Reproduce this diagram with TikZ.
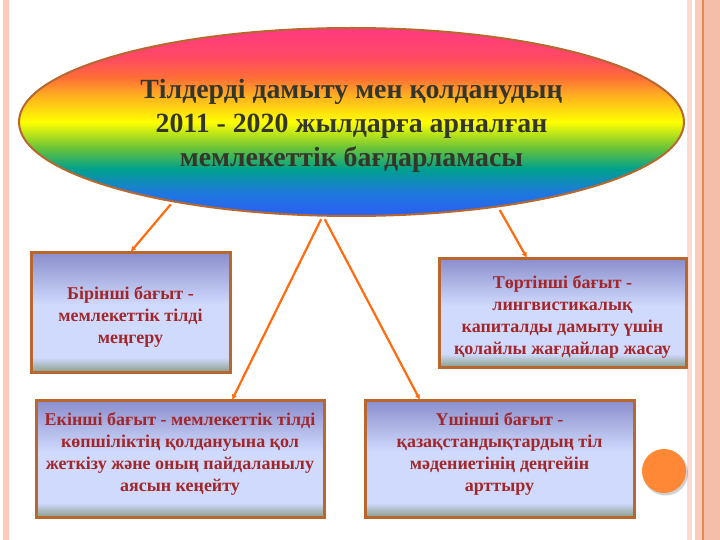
\documentclass[tikz,border=0pt]{standalone}
\usepackage{fontspec}
\setmainfont{Liberation Serif}
\usetikzlibrary{shapes.geometric,arrows.meta,calc}
\definecolor{rb1}{HTML}{2A5EF2}
\definecolor{rb2}{HTML}{1F78E0}
\definecolor{rb3}{HTML}{00A08E}
\definecolor{rb4}{HTML}{66C23A}
\definecolor{rb5}{HTML}{FFFF00}
\definecolor{rb6}{HTML}{FFB020}
\definecolor{rb7}{HTML}{FF6C38}
\definecolor{rb8}{HTML}{FF4A62}
\definecolor{rb9}{HTML}{FF3A82}
\definecolor{bxg}{HTML}{8C9E8A}
\definecolor{bxl}{HTML}{CFDAFD}
\definecolor{bxt}{HTML}{8A8DCB}
\definecolor{bord}{HTML}{B8682E}
\definecolor{arr}{HTML}{FF6B0F}
\definecolor{boxtxt}{HTML}{A3262A}
\definecolor{titletxt}{HTML}{35362A}
\definecolor{stripA}{HTML}{FDCBBB}
\definecolor{stripB}{HTML}{FCDCD0}
\definecolor{stripC}{HTML}{F9CCBB}
\definecolor{stripD}{HTML}{E8874F}
\definecolor{stripE}{HTML}{F5BEA8}
\definecolor{dot}{HTML}{FF8836}
\pgfdeclareverticalshading{rainbow}{100bp}{color(0bp)=(rb1); color(25bp)=(rb1); color(31bp)=(rb2); color(37.5bp)=(rb3); color(43bp)=(rb4); color(50bp)=(rb5); color(57bp)=(rb6); color(62bp)=(rb7); color(67bp)=(rb8); color(75bp)=(rb9); color(100bp)=(rb9)}
\pgfdeclareverticalshading{boxshade}{100bp}{color(0bp)=(bxg); color(25bp)=(bxg); color(31bp)=(bxl); color(53bp)=(bxl); color(75bp)=(bxt); color(100bp)=(bxt)}
\newcommand\boxlift{\rule{0pt}{22pt}}
\newcommand\titlelift{\rule{0pt}{27pt}}
\tikzset{
  bigoval/.style={ellipse, draw=bord, line width=2pt, shading=rainbow, minimum width=665pt, minimum height=188pt, inner sep=0pt, outer sep=0pt, align=center, text=titletxt, font=\fontsize{27.8}{34}\selectfont\bfseries},
  dirbox/.style={rectangle, draw=bord, line width=3pt, shading=boxshade, inner sep=0pt, outer sep=0pt, align=center, text=boxtxt, font=\fontsize{18}{22}\selectfont\bfseries},
  link/.style={draw=arr, line width=2.2pt, -{Latex[length=5.5pt,width=5.5pt]}, shorten <=4pt},
}
\begin{document}
\begin{tikzpicture}[x=1pt,y=-1pt]
\useasboundingbox (0,0) rectangle (720,540);
\fill[white] (0,0) rectangle (720,540);
% page strips
\fill[stripA] (3,0) rectangle (9,540);
\fill[stripB] (687,0) rectangle (692,540);
\fill[stripC] (695,0) rectangle (702,540);
\fill[stripD] (702,0) rectangle (703.5,540);
\fill[stripE] (703.5,0) rectangle (720,540);

\node[bigoval] (e) at (351.5,122) {\titlelift Тілдерді дамыту мен қолданудың\\2011 - 2020 жылдарға арналған\\мемлекеттік бағдарламасы};

\node[dirbox, minimum width=199pt, minimum height=120pt] (b1) at (130.5,312) {\boxlift Бірінші бағыт -\\мемлекеттік тілді\\меңгеру};
\node[dirbox, minimum width=288pt, minimum height=117pt, text depth=12pt] (b2) at (180,458.5) {Екінші бағыт - мемлекеттік тілді\\көпшіліктің қолдануына қол\\жеткізу және оның пайдаланылу\\аясын кеңейту};
\node[dirbox, minimum width=269pt, minimum height=117pt, text depth=12pt] (b3) at (499.5,458.5) {Үшінші бағыт -\\қазақстандықтардың тіл\\мәдениетінің деңгейін\\арттыру};
\node[dirbox, minimum width=247pt, minimum height=109pt] (b4) at (562.5,312.5) {\boxlift Төртінші бағыт -\\лингвистикалық\\капиталды дамыту үшін\\қолайлы жағдайлар жасау};

\fill[black, opacity=0.18] (665.5,473) circle (22.5pt);
\node[circle, fill=dot, minimum size=44pt, inner sep=0pt] (c) at (664,471) {};

\draw[link] (e.204.9) -- (b1.north);
\draw[link] (e.253.6) -- ([xshift=52pt]b2.north);
\draw[link] (e.253.6) -- ([xshift=-79.5pt]b3.north);
\draw[link] (e.330.5) -- ([xshift=-35.5pt]b4.north);
\end{tikzpicture}
\end{document}
